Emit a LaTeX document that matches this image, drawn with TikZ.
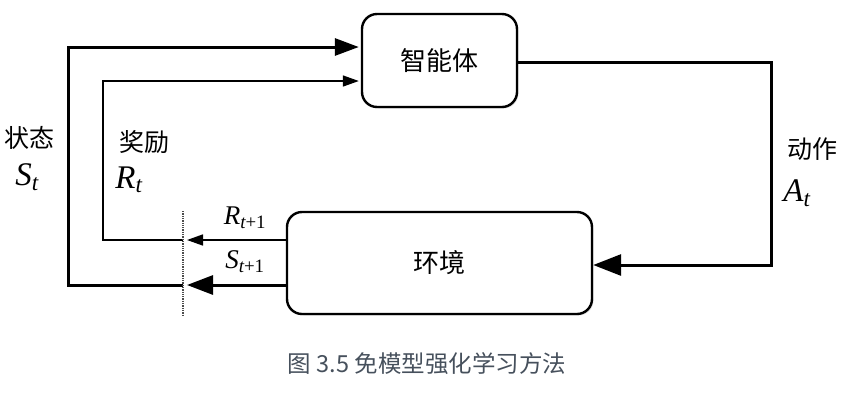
\documentclass[tikz,border=0pt]{standalone}
\usepackage{amsmath}
\usepackage{fontspec}
\setmainfont{Liberation Serif}
\newfontfamily\cjk{Noto Sans CJK SC}
\usetikzlibrary{arrows.meta,shadows}
\definecolor{capgray}{HTML}{46505C}
\newcommand\mvar[1]{\textit{#1}}
\tikzset{
  box/.style={draw, line width=2.4pt, rounded corners=15pt, fill=white,
    drop shadow={opacity=0.25, shadow xshift=1.5pt, shadow yshift=-1.5pt},
    font=\cjk\fontsize{26}{30}\selectfont},
  thickline/.style={line width=3pt, line join=miter},
  thinline/.style={line width=1.6pt, line join=miter},
  bigtip/.style={-{Triangle[length=24pt,width=17pt]}},
  bigtipb/.style={-{Triangle[length=26pt,width=19pt]}},
  bigtipc/.style={-{Triangle[length=28pt,width=21pt]}},
  smalltip/.style={-{Triangle[length=16pt,width=11pt]}},
  cnlabel/.style={font=\cjk\fontsize{25}{28}\selectfont},
  mlabel/.style={font=\fontsize{33}{36}\selectfont},
  slabel/.style={font=\fontsize{27}{30}\selectfont},
}
\begin{document}
\begin{tikzpicture}[x=1pt,y=-1pt]
\useasboundingbox (0,0) rectangle (854,392);
\node[box, minimum width=155pt, minimum height=93pt] (agent) at (439.5,60.5) {智能体};
\node[box, minimum width=305pt, minimum height=102pt] (env) at (439.5,263) {环境};
% coordinates
\coordinate (s1) at (68,47);
\coordinate (s2) at (68,285);
\coordinate (r1) at (103,81);
\coordinate (r2) at (103,240);
\coordinate (sd) at (183,285);
\coordinate (rd) at (183,240);
\coordinate (se) at (env.west |- 0,285);
\coordinate (re) at (env.west |- 0,240);
\coordinate (sa) at (agent.west |- 0,47);
\coordinate (ra) at (agent.west |- 0,81);
\coordinate (a1) at (771,62);
\coordinate (a2) at (771,265);
\coordinate (aa) at (agent.east |- 0,62);
\coordinate (ae) at (env.east |- 0,265);
\coordinate (dtop) at (183,211);
\coordinate (dbot) at (183,316);
% state loop
\draw[thickline, bigtip] (sd) -- (s2) -- (s1) -- ([xshift=-2pt]sa);
\draw[thickline, bigtipb] (se) -- ([xshift=4pt]sd);
% reward loop
\draw[thinline, smalltip] (rd) -- (r2) -- (r1) -- ([xshift=-2pt]ra);
\draw[thinline, smalltip] (re) -- ([xshift=4pt]rd);
% action
\draw[thickline, bigtipc] (aa) -- (a1) -- (a2) -- (ae);
% dotted separator
\draw[line width=1.3pt, densely dotted, gray!60!black] (dtop) -- (dbot);
% labels
\node[cnlabel] (lstate) at (30,138) {状态};
\node[mlabel] (lst) at (27,177) {$\mvar{S}_{\mvar{t}}$};
\node[cnlabel] (lrew) at (144,142) {奖励};
\node[mlabel] (lrt) at (129,180) {$\mvar{R}_{\mvar{t}}$};
\node[cnlabel] (lact) at (812,149) {动作};
\node[mlabel] (lat) at (797,193) {$\mvar{A}_{\mvar{t}}$};
\node[slabel] (lrt1) at (245,218) {$\mvar{R}_{\mvar{t}\textrm{+1}}$};
\node[slabel] (lst1) at (245,262) {$\mvar{S}_{\mvar{t}\textrm{+1}}$};
\node[font=\cjk\fontsize{23.5}{26}\selectfont, text=capgray] (cap) at (427,364) {图 3.5 免模型强化学习方法};
\end{tikzpicture}
\end{document}
